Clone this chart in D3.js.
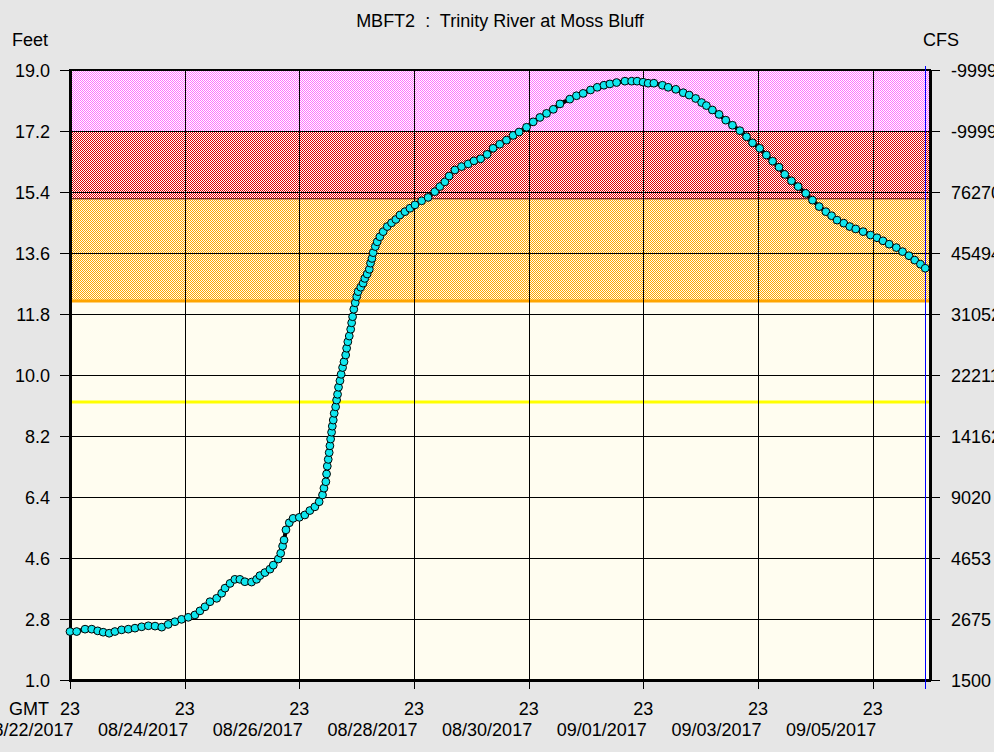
<!DOCTYPE html>
<html>
<head>
<meta charset="utf-8">
<script src="https://cdn.jsdelivr.net/npm/d3@7"></script>
<style>
  body { margin: 0; background: #e6e6e6; }
  svg text { font-family: "Liberation Sans", Arial, sans-serif; fill: #000; white-space: pre; }
</style>
</head>
<body>
<svg id="chart" width="994" height="752"></svg>
<script>
// hours after 08/22/2017 23:00 GMT, and stage in feet
let hours = [0, 2.8, 6.3, 9.1, 11.6, 13.9, 16.4, 18.8, 21.6, 24.4, 27.2, 30.0, 32.8, 35.6, 38.4, 41.1, 43.9, 46.7,
    49.5, 52.3, 54.4, 56.5, 58.6, 61.4, 63.5, 64.9, 67.0, 69.0, 71.1, 73.2, 76.0, 78.1, 79.5, 81.6, 83.7, 85.1,
    87.2, 88.2, 89.0, 89.6, 90.4, 91.8, 93.4, 96.0, 98.3, 100.4, 102.5, 104.3, 105.7, 106.3, 107.1,
    107.4, 107.7, 108.1, 108.5, 108.8, 109.1, 109.5, 109.8, 110.2, 110.6, 111.2, 111.6, 112.0, 112.4, 113.0,
    113.5, 114.1, 114.7, 115.4, 115.8, 116.3, 116.9, 117.5, 117.9, 118.3, 118.8, 119.4, 120.0, 120.6, 121.7,
    122.7, 123.4, 124.4, 125.3, 125.8, 126.4, 126.9, 127.8, 128.6, 129.7, 131.1, 132.8, 134.6, 136.4, 138.1,
    140.2, 142.3, 144.4, 147.2, 149.9, 152.7, 154.8, 156.9, 158.7, 161.1, 163.9, 166.7, 169.1, 171.9, 174.6,
    177.1, 179.9, 182.7, 185.5, 188.0, 191.1, 193.9, 196.7, 199.5, 202.3, 205.1, 209.2, 212.0, 214.8, 217.9,
    220.7, 223.5, 226.0, 228.8, 232.3, 235.1, 237.4, 239.9, 242.0, 244.4, 248.0, 250.4, 253.6, 256.7, 259.2,
    261.9, 264.4, 266.4, 268.9, 271.7, 274.5, 277.3, 280.4, 283.2, 285.7, 288.7, 291.5, 294.1, 296.8, 299.2,
    302.0, 304.8, 308.0, 310.8, 313.6, 316.4, 318.8, 321.1, 323.9, 326.4, 328.9, 332.0, 335.1, 337.8, 340.3,
    342.9, 345.9, 348.5, 351.2, 353.6, 356.0, 358.0];
let stage = [2.43, 2.43, 2.50, 2.50, 2.45, 2.41, 2.38, 2.43, 2.48, 2.50, 2.53, 2.57, 2.60, 2.59, 2.56, 2.64, 2.72, 2.79,
    2.85, 2.92, 3.04, 3.16, 3.31, 3.41, 3.56, 3.71, 3.85, 3.97, 3.97, 3.90, 3.89, 3.97, 4.08, 4.17, 4.27, 4.39,
    4.57, 4.74, 4.95, 5.13, 5.43, 5.64, 5.77, 5.80, 5.87, 6.00, 6.11, 6.26, 6.46, 6.66, 6.85,
    7.08, 7.31, 7.51, 7.71, 7.91, 8.11, 8.31, 8.49, 8.67, 8.87, 9.06, 9.26, 9.43, 9.64, 9.83,
    10.02, 10.22, 10.39, 10.59, 10.79, 10.98, 11.15, 11.35, 11.54, 11.72, 11.94, 12.13, 12.31, 12.46, 12.59,
    12.71, 12.85, 12.98, 13.12, 13.30, 13.44, 13.61, 13.79, 13.93, 14.08, 14.23, 14.38, 14.49, 14.59, 14.72,
    14.82, 14.92, 15.02, 15.14, 15.24, 15.41, 15.56, 15.70, 15.87, 16.05, 16.15, 16.23, 16.32, 16.38, 16.51,
    16.69, 16.81, 16.93, 17.07, 17.17, 17.31, 17.47, 17.60, 17.72, 17.84, 18.00, 18.14, 18.24, 18.31, 18.41,
    18.49, 18.55, 18.59, 18.63, 18.67, 18.67, 18.67, 18.64, 18.61, 18.61, 18.55, 18.49, 18.43, 18.33, 18.26,
    18.16, 18.04, 17.95, 17.82, 17.69, 17.52, 17.37, 17.21, 17.03, 16.85, 16.69, 16.49, 16.31, 16.13, 15.92,
    15.73, 15.56, 15.36, 15.16, 14.97, 14.82, 14.70, 14.57, 14.48, 14.38, 14.31, 14.23, 14.13, 14.05, 13.96,
    13.86, 13.76, 13.64, 13.52, 13.39, 13.27, 13.15];

let feetTicks = [1.0, 2.8, 4.6, 6.4, 8.2, 10.0, 11.8, 13.6, 15.4, 17.2, 19.0];
let cfsLabels = ["1500", "2675", "4653", "9020", "14162", "22211", "31052", "45494", "76270", "-99999", "-99999"];
let tickHours = [0, 48, 96, 144, 192, 240, 288, 336];
let nowHour = 358;
let startTime = Date.UTC(2017, 7, 22, 23);
let endTime = Date.UTC(2017, 8, 6, 23);

// flood categories (ft)
let actionStage = 9.2,
    floodStage = 12.2,
    moderateStage = 15.2,
    majorStage = 17.2;

const HOUR = 3600 * 1000;
let svg = d3.select('#chart');
let pLeft = 70, pRight = 930, pTop = 70, pBottom = 680;

let x = d3.scaleUtc().domain([startTime, endTime]).range([pLeft, pRight]);
let y = d3.scaleLinear().domain([1, 19]).range([pBottom, pTop]);
let t = h => new Date(startTime + h * HOUR);

// dither patterns like the original
let defs = svg.append('defs');
function checker(id, a, b) {
    let p = defs.append('pattern').attr('id', id).attr('width', 2).attr('height', 2)
        .attr('patternUnits', 'userSpaceOnUse');
    p.append('rect').attr('width', 2).attr('height', 2).attr('fill', b);
    p.append('rect').attr('width', 1).attr('height', 1).attr('fill', a);
    p.append('rect').attr('x', 1).attr('y', 1).attr('width', 1).attr('height', 1).attr('fill', a);
}
checker('pinkDots', '#ff70ff', '#ffffff');
checker('redDots', '#e00000', '#ffffff');
checker('orangeDots', '#ffa500', '#fffcee');

svg.append('rect').attr('x', pLeft).attr('y', pTop).attr('width', pRight - pLeft).attr('height', pBottom - pTop)
    .attr('fill', '#fffdf0');

let bands = [
    { lo: majorStage, hi: 19, fill: 'url(#pinkDots)' },
    { lo: moderateStage, hi: majorStage, fill: 'url(#redDots)' },
    { lo: floodStage, hi: moderateStage, fill: 'url(#orangeDots)' }
];
svg.append('g').selectAll('rect').data(bands).join('rect')
    .attr('x', pLeft).attr('width', pRight - pLeft)
    .attr('y', d => y(d.hi)).attr('height', d => y(d.lo) - y(d.hi))
    .attr('fill', d => d.fill);

svg.append('line').attr('x1', pLeft).attr('x2', pRight).attr('y1', y(moderateStage)).attr('y2', y(moderateStage))
    .attr('stroke', '#500000').attr('stroke-width', 1);
svg.append('line').attr('x1', pLeft).attr('x2', pRight).attr('y1', y(floodStage) + 0.5).attr('y2', y(floodStage) + 0.5)
    .attr('stroke', '#ffa500').attr('stroke-width', 3);
svg.append('line').attr('x1', pLeft).attr('x2', pRight).attr('y1', y(actionStage)).attr('y2', y(actionStage))
    .attr('stroke', '#ffff00').attr('stroke-width', 3);

// grid
let grid = svg.append('g').attr('stroke', '#000').attr('stroke-width', 1).attr('shape-rendering', 'crispEdges');
grid.selectAll('.h').data(feetTicks).join('line')
    .attr('x1', pLeft - 10).attr('x2', pRight + 10)
    .attr('y1', d => Math.round(y(d)) + 0.5).attr('y2', d => Math.round(y(d)) + 0.5);
grid.selectAll('.v').data(tickHours).join('line')
    .attr('x1', d => Math.round(x(t(d))) + 0.5).attr('x2', d => Math.round(x(t(d))) + 0.5)
    .attr('y1', pTop).attr('y2', pBottom + 9);

// frame
let frame = svg.append('g').attr('stroke', '#000').attr('shape-rendering', 'crispEdges');
frame.append('line').attr('x1', pLeft - 1).attr('x2', pRight + 1).attr('y1', pTop).attr('y2', pTop).attr('stroke-width', 2);
frame.append('line').attr('x1', pLeft - 1).attr('x2', pRight + 1).attr('y1', pBottom).attr('y2', pBottom).attr('stroke-width', 3);
frame.append('line').attr('x1', pLeft).attr('x2', pLeft).attr('y1', pTop).attr('y2', pBottom + 1).attr('stroke-width', 3);
frame.append('line').attr('x1', pRight).attr('x2', pRight).attr('y1', pTop).attr('y2', pBottom + 1).attr('stroke-width', 3);

// current time marker
svg.append('line').attr('x1', Math.round(x(t(nowHour))) + 0.5).attr('x2', Math.round(x(t(nowHour))) + 0.5)
    .attr('y1', pTop - 4).attr('y2', pBottom + 9)
    .attr('stroke', '#0000ff').attr('stroke-width', 1);

// observations
let pts = hours.map((h, i) => ({ time: t(h), value: stage[i] }));
svg.append('path').datum(pts)
    .attr('fill', 'none').attr('stroke', '#000').attr('stroke-width', 4)
    .attr('d', d3.line().x(d => x(d.time)).y(d => y(d.value)));
svg.append('g').selectAll('circle').data(pts).join('circle')
    .attr('cx', d => x(d.time)).attr('cy', d => y(d.value)).attr('r', 3.9)
    .attr('fill', '#10e6ee').attr('stroke', '#000').attr('stroke-width', 1);

// axis labels
let fs = 18;
svg.append('g').selectAll('text').data(feetTicks).join('text')
    .attr('x', 50).attr('y', d => y(d) + 6.5).attr('text-anchor', 'end').attr('font-size', fs)
    .text(d => d.toFixed(1));
svg.append('g').selectAll('text').data(feetTicks).join('text')
    .attr('x', 951).attr('y', d => y(d) + 6.5).attr('font-size', fs)
    .text((d, i) => cfsLabels[i]);

let xl = svg.append('g');
xl.selectAll('.hr').data(tickHours).join('text')
    .attr('x', d => x(t(d))).attr('y', 715).attr('text-anchor', 'middle').attr('font-size', fs)
    .text(d => d3.utcFormat('%H')(t(d)));
xl.selectAll('.dt').data(tickHours).join('text')
    .attr('x', d => x(t(d)) + 3.5).attr('y', 736).attr('text-anchor', 'end').attr('font-size', fs)
    .text(d => d3.utcFormat('%m/%d/%Y')(t(d)));
svg.append('text').attr('x', 9).attr('y', 715).attr('font-size', fs).text('GMT');

svg.append('text').attr('x', 500).attr('y', 27).attr('text-anchor', 'middle').attr('font-size', fs)
    .text('MBFT2  :  Trinity River at Moss Bluff');
svg.append('text').attr('x', 12).attr('y', 46).attr('font-size', fs).text('Feet');
svg.append('text').attr('x', 923).attr('y', 46).attr('font-size', fs).text('CFS');
</script>
</body>
</html>
